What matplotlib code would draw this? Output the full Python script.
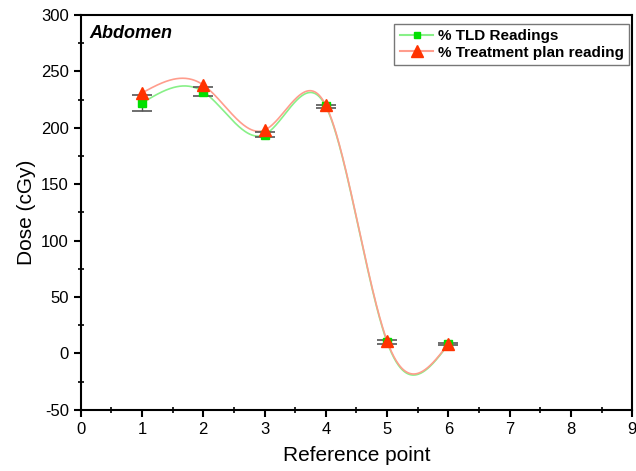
import matplotlib.pyplot as plt
import numpy as np
from matplotlib.ticker import MultipleLocator

ref_points = [1, 2, 3, 4, 5, 6]
tld_readings = [222, 232, 194, 219, 10, 8]
tld_errors = [7, 4, 2, 1.5, 1.5, 1]
plan_readings = [231, 238, 198, 220, 11, 8.5]


def NaturalSpline(x, y, n=400):
	x = np.asarray(x, float)
	y = np.asarray(y, float)
	k = len(x)
	h = np.diff(x)
	A = np.zeros((k, k))
	b = np.zeros(k)
	A[0, 0] = 1
	A[-1, -1] = 1
	for i in range(1, k - 1):
		A[i, i - 1] = h[i - 1]
		A[i, i] = 2 * (h[i - 1] + h[i])
		A[i, i + 1] = h[i]
		b[i] = 6 * ((y[i + 1] - y[i]) / h[i] - (y[i] - y[i - 1]) / h[i - 1])
	M = np.linalg.solve(A, b)
	xs = np.linspace(x[0], x[-1], n)
	idx = np.clip(np.searchsorted(x, xs) - 1, 0, k - 2)
	x0 = x[idx]
	x1 = x[idx + 1]
	hh = x1 - x0
	ys = (M[idx] * (x1 - xs) ** 3 / (6 * hh) + M[idx + 1] * (xs - x0) ** 3 / (6 * hh)
		+ (y[idx] / hh - M[idx] * hh / 6) * (x1 - xs)
		+ (y[idx + 1] / hh - M[idx + 1] * hh / 6) * (xs - x0))
	return xs, ys


def main():
	plt.rcParams['font.family'] = ['Liberation Sans', 'DejaVu Sans']
	plt.rcParams['axes.unicode_minus'] = False

	fig = plt.figure(figsize=(6.36, 4.71), dpi=100)
	ax = fig.add_axes([0.127, 0.13, 0.867, 0.838])

	#
	# smooth curves
	#
	xs, ys = NaturalSpline(ref_points, tld_readings)
	ax.plot(xs, ys, color='#88f088', lw=1.2, zorder=2)
	xs, ys = NaturalSpline(ref_points, plan_readings)
	ax.plot(xs, ys, color='#ff9d8d', lw=1.2, zorder=2)

	#
	# markers and error bars
	#
	ax.errorbar(ref_points, tld_readings, yerr=tld_errors, fmt='none',
		ecolor='#555555', elinewidth=1, capsize=7, capthick=1.2, zorder=3)
	ax.plot(ref_points, tld_readings, 's', color='#00e000', ms=6, zorder=4)
	ax.plot(ref_points, plan_readings, '^', color='#ff3300', ms=8, zorder=5)

	# legend handles
	ax.plot([], [], '-s', color='#88f088', mfc='#00e000', mec='#00e000', ms=5,
		label='% TLD Readings')
	ax.plot([], [], '-^', color='#ff9d8d', mfc='#ff3300', mec='#ff3300', ms=8,
		label='% Treatment plan reading')
	leg = ax.legend(loc='upper right', bbox_to_anchor=(1.0, 0.985),
		prop={'weight': 'bold', 'size': 11}, fancybox=False, edgecolor='#555555',
		handlelength=2.2, handletextpad=0.3, borderpad=0.35, labelspacing=0.15,
		borderaxespad=0.2)
	leg.get_frame().set_linewidth(1)

	ax.text(0.015, 0.975, 'Abdomen', transform=ax.transAxes, ha='left', va='top',
		fontsize=13, fontweight='bold', fontstyle='italic')

	ax.set_xlim(0, 9)
	ax.set_ylim(-50, 300)
	ax.xaxis.set_major_locator(MultipleLocator(1))
	ax.xaxis.set_minor_locator(MultipleLocator(0.5))
	ax.yaxis.set_major_locator(MultipleLocator(50))
	ax.yaxis.set_minor_locator(MultipleLocator(25))
	ax.tick_params(which='major', direction='out', length=5, width=1.5, labelsize=12)
	ax.tick_params(which='minor', direction='inout', length=4, width=1.2)
	for s in ax.spines.values():
		s.set_linewidth(1.5)

	ax.set_xlabel('Reference point', fontsize=15, labelpad=7)
	ax.set_ylabel('Dose (cGy)', fontsize=15, labelpad=4)

	fig.savefig('out.png', dpi=100)

if __name__ == "__main__":
    main()
